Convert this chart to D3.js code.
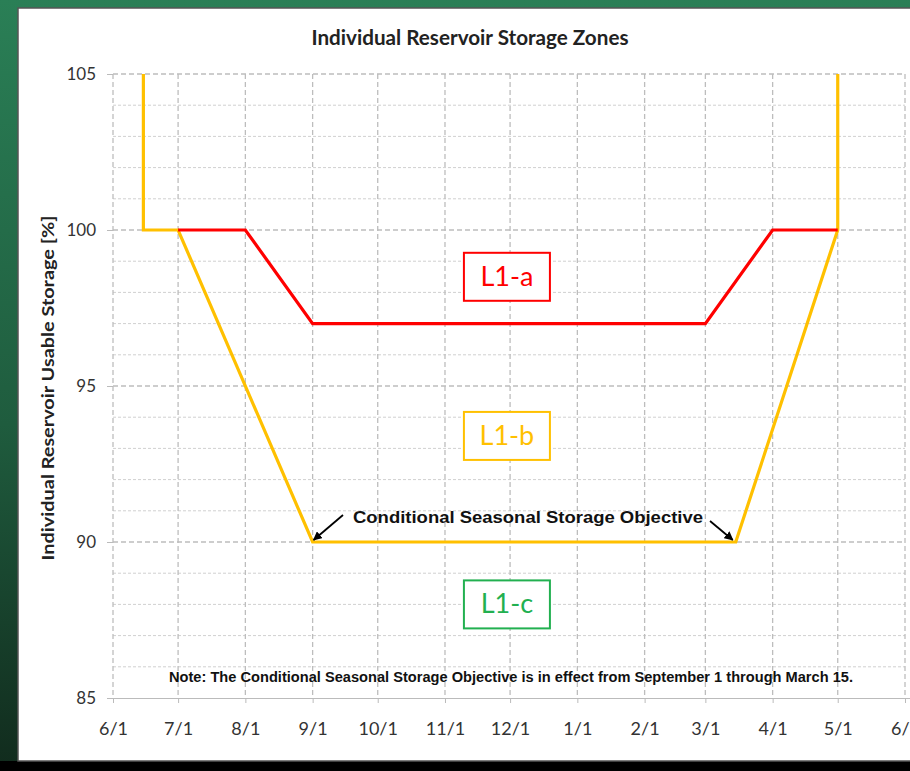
<!DOCTYPE html>
<html><head><meta charset="utf-8">
<script src="https://cdn.jsdelivr.net/npm/d3@7"></script>
<style>html,body{margin:0;padding:0;background:#000;overflow:hidden}</style>
</head><body>
<svg id="c" width="910" height="771"></svg>
<script>
// ---- data ----
const monthTicks = ["6/1","7/1","8/1","9/1","10/1","11/1","12/1","1/1","2/1","3/1","4/1","5/1","6/1"];
const yTicks = [85, 90, 95, 100, 105];
const l1bDates = ["6/15","6/15","7/1","9/1","3/15","5/1","5/1"];
const l1bValues = [105, 100, 100, 90, 90, 100, 105];
const l1aDates = ["7/1","8/1","9/1","3/1","4/1","5/1"];
const l1aValues = [100, 100, 97, 97, 100, 100];
const zoneLabels = ["L1-a","L1-b","L1-c"];
const zoneCenters = [["11/30", 98.5], ["11/30", 93.4], ["11/30", 88.0]];
const zoneColors = ["#ff0000", "#ffc000", "#22b050"];

// parse m/d into season year (June 2013 .. June 2014)
function pd(s, isEnd){
  const [m,d] = s.split("/").map(Number);
  const y = (m >= 6 && !isEnd) ? 2013 : 2014;
  return new Date(y, m-1, d);
}

const svg = d3.select("#c");
const FONT = "Lato, 'Open Sans', sans-serif";
// background
const defs = svg.append("defs");
const g1 = defs.append("linearGradient").attr("id","bg").attr("x1",0).attr("y1",0).attr("x2",0).attr("y2",1);
g1.append("stop").attr("offset","0%").attr("stop-color","#2a7f56");
g1.append("stop").attr("offset","55%").attr("stop-color","#1f5c3e");
g1.append("stop").attr("offset","100%").attr("stop-color","#112b1d");
svg.append("rect").attr("width",910).attr("height",771).attr("fill","url(#bg)");
svg.append("rect").attr("x",0).attr("y",761).attr("width",910).attr("height",10).attr("fill","#000");
svg.append("rect").attr("x",18).attr("y",8).attr("width",920).attr("height",753)
  .attr("fill","#fff").attr("stroke","#555").attr("stroke-width",1.5);

const x = d3.scaleTime().domain([new Date(2013,5,1), new Date(2014,5,1)]).range([113, 905]);
const y = d3.scaleLinear().domain([85,105]).range([698, 74]);

const tickDates = monthTicks.map((t,i)=>pd(t, i===monthTicks.length-1));

// minor horizontal grid
const g = svg.append("g");
g.selectAll("line.minor").data(d3.range(86,105).filter(v=>v%5!==0)).join("line")
  .attr("x1",113).attr("x2",905).attr("y1",d=>y(d)).attr("y2",d=>y(d))
  .attr("stroke","#d0d0d0").attr("stroke-width",1).attr("stroke-dasharray","3,2");
// major horizontal grid
g.selectAll("line.major").data(yTicks.filter(v=>v>85)).join("line")
  .attr("x1",113).attr("x2",905).attr("y1",d=>y(d)).attr("y2",d=>y(d))
  .attr("stroke","#bdbdbd").attr("stroke-width",1.3).attr("stroke-dasharray","5,3");
// vertical grid
g.selectAll("line.v").data(tickDates).join("line")
  .attr("x1",d=>x(d)).attr("x2",d=>x(d)).attr("y1",y(105)).attr("y2",y(85))
  .attr("stroke","#bdbdbd").attr("stroke-width",1.3).attr("stroke-dasharray","5,3");

// x axis
const xAxis = d3.axisBottom(x).tickValues(tickDates).tickSize(5).tickPadding(19)
  .tickFormat((d,i)=>monthTicks[i]);
const xa = svg.append("g").attr("transform",`translate(0,${y(85)})`).call(xAxis);
xa.select(".domain").attr("stroke","#bbb").attr("d",`M107,0.5H910`);
xa.selectAll(".tick line").attr("stroke","#bbb");
xa.selectAll("text").attr("fill","#333").style("font-family",FONT).style("font-size","18px");

// y axis
const yAxis = d3.axisLeft(y).tickValues(yTicks).tickSize(6).tickPadding(11);
const ya = svg.append("g").attr("transform",`translate(113,0)`).call(yAxis);
ya.select(".domain").remove();
ya.selectAll(".tick line").attr("stroke","#bbb");
ya.selectAll("text").attr("fill","#333").style("font-family",FONT).style("font-size","17px");

// lines
const line = d3.line().x(d=>x(d[0])).y(d=>y(d[1]));
const l1b = l1bDates.map((d,i)=>[pd(d), l1bValues[i]]);
const l1a = l1aDates.map((d,i)=>[pd(d), l1aValues[i]]);
svg.append("path").datum(l1b).attr("d",line).attr("fill","none").attr("stroke","#ffc000").attr("stroke-width",3.2);
svg.append("path").datum(l1a).attr("d",line).attr("fill","none").attr("stroke","#ff0000").attr("stroke-width",3.2);

// zone label boxes
zoneLabels.forEach((lab,i)=>{
  const cx = x(pd(zoneCenters[i][0])) - 1, cy = y(zoneCenters[i][1]);
  svg.append("rect").attr("x",cx-43).attr("y",cy-24).attr("width",86).attr("height",48)
    .attr("fill","#fff").attr("stroke",zoneColors[i]).attr("stroke-width",2);
  svg.append("text").attr("x",cx).attr("y",cy+9).attr("text-anchor","middle")
    .attr("fill",zoneColors[i]).style("font-family",FONT).style("font-size","27px").text(lab);
});

// title
svg.append("text").attr("x",470).attr("y",45).attr("text-anchor","middle")
  .attr("textLength",317).attr("lengthAdjust","spacingAndGlyphs")
  .style("font-family",FONT).style("font-weight","bold").style("font-size","20px")
  .attr("fill","#222").text("Individual Reservoir Storage Zones");
// y label
svg.append("text").attr("transform","translate(54,388) rotate(-90)").attr("text-anchor","middle")
  .attr("textLength",345).attr("lengthAdjust","spacingAndGlyphs")
  .style("font-family",FONT).style("font-weight","bold").style("font-size","17px")
  .attr("fill","#222").text("Individual Reservoir Usable Storage [%]");

// annotation
svg.append("text").attr("x",528).attr("y",523).attr("text-anchor","middle")
  .attr("textLength",350).attr("lengthAdjust","spacingAndGlyphs")
  .style("font-family","'Liberation Sans', Arial, sans-serif").style("font-weight","bold").style("font-size","17px")
  .attr("fill","#111").text("Conditional Seasonal Storage Objective");
defs.append("marker").attr("id","ah").attr("viewBox","0 0 10 10").attr("refX",9).attr("refY",5)
  .attr("markerWidth",5).attr("markerHeight",5).attr("orient","auto")
  .append("path").attr("d","M0,0L10,5L0,10z").attr("fill","#000");
[[343,515,"9/1",90],[710,521,"3/15",90]].forEach(a=>{
  const tx = x(pd(a[2])) + (a[2]==="9/1"? 1 : -3), ty = y(a[3]) - 2;
  svg.append("line").attr("x1",a[0]).attr("y1",a[1]).attr("x2",tx).attr("y2",ty)
    .attr("stroke","#000").attr("stroke-width",1.8).attr("marker-end","url(#ah)");
});

// note
svg.append("text").attr("x",511).attr("y",682).attr("text-anchor","middle")
  .attr("textLength",684).attr("lengthAdjust","spacingAndGlyphs")
  .style("font-family","'Liberation Sans', Arial, sans-serif").style("font-weight","bold").style("font-size","14.5px")
  .attr("fill","#111").text("Note: The Conditional Seasonal Storage Objective is in effect from September 1 through March 15.");
</script>
</body></html>
